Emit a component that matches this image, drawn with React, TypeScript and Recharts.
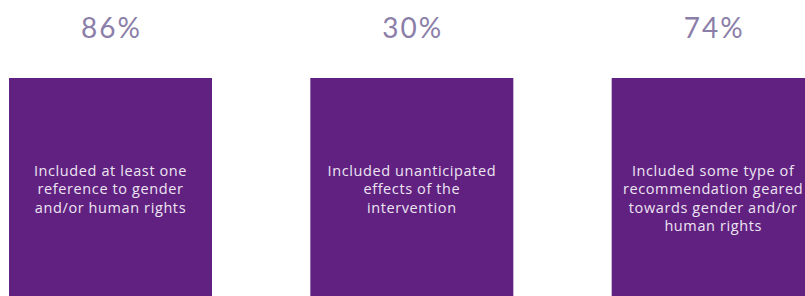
import React from 'react'
import { BarChart, Bar, XAxis, YAxis, LabelList } from 'recharts'

// categories + values
const categories = ['reference', 'unanticipated', 'recommendation']
const percents = [86, 30, 74]
// every panel is drawn as a full-height box
const panelValues = [100, 100, 100]
const descriptions = [
  ['Included at least one', 'reference to gender', 'and/or human rights'],
  ['Included unanticipated', 'effects of the', 'intervention'],
  ['Included some type of', 'recommendation geared', 'towards gender and/or', 'human rights'],
]

const data = categories.map((name, i) => ({
  name,
  panel: panelValues[i],
  percent: percents[i],
}))

// eslint-disable-next-line @typescript-eslint/no-explicit-any
const PercentLabel = (props: any) => {
  const { x, y, width, index } = props
  return (
    <text
      x={x + width / 2 + 1}
      y={y - 51}
      textAnchor="middle"
      dominantBaseline="central"
      fontSize={28}
      letterSpacing={2}
      fontFamily="Lato, sans-serif"
      fill="#8b7ea8"
    >
      {`${percents[index]}%`}
    </text>
  )
}

// eslint-disable-next-line @typescript-eslint/no-explicit-any
const DescLabel = (props: any) => {
  const { x, y, width, index } = props
  const lines = descriptions[index]
  return (
    <text
      x={x + width / 2}
      y={y + 92}
      textAnchor="middle"
      dominantBaseline="central"
      fontSize={14.5}
      letterSpacing={0.6}
      fontFamily='"Open Sans", sans-serif'
      fill="#ede5f2"
    >
      {lines.map((line, i) => (
        <tspan key={i} x={x + width / 2} dy={i === 0 ? 0 : 18.3}>
          {line}
        </tspan>
      ))}
    </text>
  )
}

export default function App() {
  return (
    <div style={{ position: 'absolute', left: 0, top: 0, width: 805, height: 296, overflow: 'hidden', background: '#fff' }}>
      <div style={{ position: 'absolute', left: -40, top: 0 }}>
        <BarChart
          width={904}
          height={296}
          data={data}
          margin={{ top: 78, right: 0, bottom: 0, left: 0 }}
          barCategoryGap={0}
        >
          <XAxis dataKey="name" hide />
          <YAxis domain={[0, 100]} hide />
          <Bar dataKey="panel" fill="#612181" barSize={203} isAnimationActive={false}>
            <LabelList dataKey="percent" content={<PercentLabel />} />
            <LabelList dataKey="name" content={<DescLabel />} />
          </Bar>
        </BarChart>
      </div>
    </div>
  )
}
